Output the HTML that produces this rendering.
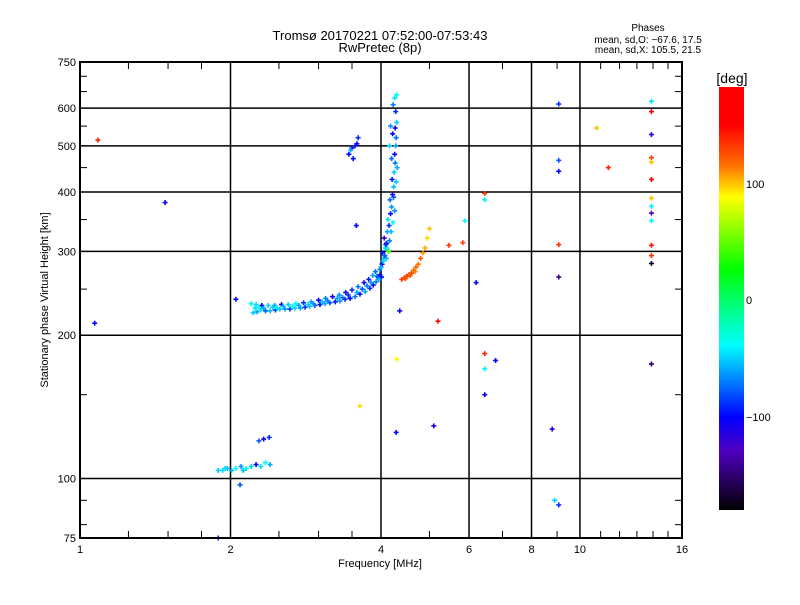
<!DOCTYPE html>
<html><head><meta charset="utf-8"><style>
body{margin:0;background:#fff;}
svg text{font-family:"Liberation Sans","DejaVu Sans",sans-serif;fill:#000;}
</style></head><body>
<svg id="chart" width="800" height="600" viewBox="0 0 800 600" xmlns="http://www.w3.org/2000/svg">
<defs>
<linearGradient id="cbar" x1="0" y1="0" x2="0" y2="1">
<stop offset="0" stop-color="#ff0000"/><stop offset="0.09" stop-color="#ff0000"/>
<stop offset="0.185" stop-color="#ff7000"/><stop offset="0.26" stop-color="#ffff00"/>
<stop offset="0.43" stop-color="#00ff00"/><stop offset="0.61" stop-color="#00ffff"/>
<stop offset="0.78" stop-color="#0000ff"/><stop offset="0.86" stop-color="#5000c0"/>
<stop offset="1" stop-color="#000000"/>
</linearGradient>
</defs>
<text x="380" y="40" font-size="13" text-anchor="middle">Tromsø 20170221 07:52:00-07:53:43</text>
<text x="380" y="52" font-size="13" text-anchor="middle">RwPretec (8p)</text>
<g font-size="10" text-anchor="middle">
<text x="648" y="31">Phases</text>
<text x="648" y="43">mean, sd,O: −67.6, 17.5</text>
<text x="648" y="53">mean, sd,X: 105.5, 21.5</text>
</g>
<g id="grid"></g>
<g id="ticks"></g>
<g id="marks"></g>
<rect x="80" y="62" width="602" height="476" fill="none" stroke="#000" stroke-width="2"/>
<text x="380" y="567" font-size="11" text-anchor="middle">Frequency [MHz]</text>
<text x="48" y="300" font-size="11" text-anchor="middle" transform="rotate(-90 48 300)">Stationary phase Virtual Height [km]</text>
<rect x="719" y="87" width="25" height="423" fill="url(#cbar)"/>
<text x="732" y="83" font-size="14" text-anchor="middle">[deg]</text>
<g font-size="11">
<text x="746" y="188">100</text><text x="746" y="304">0</text><text x="746" y="421">−100</text>
</g>
</svg>
<script>
const xTickVals=[1,2,4,6,8,10,16];
const yTickVals=[75,100,200,300,400,500,600,750];
const xGridVals=[2,4,6,8,10];
const yGridVals=[100,200,300,400,500,600];
const xMinor=[1.25,1.5,1.75,2.5,3,3.5,5,7,9,11,12,13,14,15];
const yMinor=[80,90,150,250,350,450,550,650,700];
const freqs=[2.22,2.26,2.30,2.35,2.40,2.46,2.51,2.57,2.63,2.69,2.76,2.82,2.88,2.95,3.02,3.09,3.16,3.24,3.31,3.39,3.47,3.55,3.63,3.72,3.80,3.86,3.91,3.95,3.98,
2.20,2.25,2.31,2.38,2.45,2.53,2.61,2.70,2.80,2.90,3.00,3.10,3.20,3.30,3.40,3.50,3.60,3.70,3.78,3.85,3.90,
2.24,2.28,2.33,2.43,2.48,2.55,2.66,2.74,2.86,2.93,3.05,3.13,3.27,3.35,3.44,3.58,3.67,3.75,3.82,3.93,
3.98,4.02,4.05,4.03,4.08,4.10,4.06,4.12,4.15,4.13,4.18,4.20,4.17,4.22,4.24,4.21,4.25,4.27,4.26,4.28,4.29,4.27,4.30,4.28,4.22,4.18,4.10,4.14,4.23,
4.00,4.04,4.07,4.11,4.16,4.19,4.23,4.26,4.24,4.29,4.31,4.20,4.16,4.09,4.01,3.96,4.26,4.30,
3.45,3.50,3.55,3.58,3.52,3.60,3.48,
4.40,4.45,4.50,4.55,4.60,4.65,4.70,4.75,4.80,4.85,4.90,4.95,5.00,4.48,4.58,4.68,
1.89,1.93,1.97,2.01,2.05,2.10,2.15,2.20,2.25,2.30,2.35,2.40,2.28,2.33,2.39,2.09,1.89,1.95,2.12,
1.086,1.48,1.07,2.05,3.57,4.36,4.30,4.29,3.63,5.10,5.20,5.47,5.83,5.89,6.20,6.45,6.45,6.45,6.45,6.45,6.78,8.80,8.90,9.07,9.07,9.07,9.07,9.07,9.07,10.8,11.4,13.9,13.9,13.9,13.9,13.9,13.9,13.9,13.9,13.9,13.9,13.9,13.9,13.9,13.9];
const heights=[223,224,226,225,225,226,227,227,227,228,228,229,230,231,232,233,234,235,236,238,239,241,244,247,251,255,259,264,268,
233,232,231,231,231,232,232,233,234,235,237,239,241,243,246,249,253,258,262,267,272,
228,229,228,229,228,230,230,231,232,233,235,236,239,240,243,246,250,254,258,266,
275,282,290,298,305,312,320,330,340,350,360,372,385,395,410,425,440,460,480,500,520,545,560,590,530,550,290,300,610,
278,286,294,305,316,330,345,365,390,420,450,470,500,310,265,262,630,640,
480,495,500,505,470,520,490,
262,264,266,268,270,274,278,282,290,298,305,320,335,263,267,272,
104,104,105,104,105,106,105,106,107,106,108,107,120,121,122,97,75,105,104,
514,380,212,238,340,225,178,125,142,129,214,309,313,348,258,397,385,183,170,150,177,127,90,612,466,442,310,265,88,545,450,620,590,528,472,462,425,388,373,361,348,309,294,283,174,113];
const phases=[-50,-60,-45,-80,-55,-90,-50,-65,-85,-50,-60,-90,-55,-80,-100,-60,-85,-95,-65,-90,-100,-70,-95,-60,-90,-100,-70,-75,-95,
-40,-45,-110,-50,-60,-115,-50,-40,-90,-60,-100,-70,-110,-65,-110,-90,-70,-110,-95,-60,-75,
-45,-40,-60,-50,-45,-55,-40,-60,-50,-65,-55,-70,-60,-75,-90,-60,-80,-70,-65,-80,
-70,-110,-60,-95,-50,-100,-120,-60,-90,-45,-100,-65,-75,-110,-55,-95,-50,-70,-100,-60,-75,-110,-50,-90,-100,-65,-55,40,-70,
-60,-50,-80,-45,-70,-55,-40,-65,-80,-50,-60,-75,-50,-90,-100,-60,-45,-40,
-100,-110,-95,-105,-100,-90,-60,
130,125,135,128,132,120,118,115,122,110,105,95,100,125,120,112,
-50,-45,-60,-55,-40,-65,-30,-50,-100,-45,-35,-60,-80,-110,-90,-80,-90,-45,-55,
140,-100,-100,-100,-100,-100,90,-100,95,-110,150,135,130,-40,-100,130,-40,140,-40,-100,-100,-110,-50,-90,-80,-100,135,-140,-90,100,140,-45,160,-120,130,100,170,100,-40,-130,-40,145,135,-170,-150,165];
const svg=document.getElementById('chart');
const NS='http://www.w3.org/2000/svg';
function xs(f){return 80+150.5*Math.log2(f);}
function ys(h){return 538-476*Math.log10(h/75);}
function phaseY(p){return 300-1.165*p;}
const cstops=[[87,[255,0,0]],[125,[255,0,0]],[165,[255,112,0]],[197,[255,255,0]],[270,[0,255,0]],[345,[0,255,255]],[418,[0,0,255]],[450,[80,0,192]],[510,[0,0,0]]];
function color(p){let y=Math.max(87,Math.min(510,phaseY(p)));for(let i=1;i<cstops.length;i++){if(y<=cstops[i][0]){const a=cstops[i-1],b=cstops[i];const t=(y-a[0])/(b[0]-a[0]||1);const c=a[1].map((v,k)=>Math.round(v+(b[1][k]-v)*t));return 'rgb('+c.join(',')+')';}}return '#000';}
function line(g,x1,y1,x2,y2,w,c){const l=document.createElementNS(NS,'line');l.setAttribute('x1',x1);l.setAttribute('y1',y1);l.setAttribute('x2',x2);l.setAttribute('y2',y2);l.setAttribute('stroke',c||'#000');l.setAttribute('stroke-width',w);g.appendChild(l);return l;}
const grid=document.getElementById('grid'),ticks=document.getElementById('ticks'),marks=document.getElementById('marks');
xGridVals.forEach(v=>{const l=line(grid,xs(v),62,xs(v),538,1.5);

});
yGridVals.forEach(v=>{const l=line(grid,80,ys(v),682,ys(v),1.5);

});
xMinor.forEach(v=>{const x=xs(v);line(ticks,x,538,x,531,1);line(ticks,x,62,x,69,1);});
yMinor.forEach(v=>{const y=ys(v);line(ticks,80,y,87,y,1);line(ticks,682,y,675,y,1);});
xTickVals.forEach(v=>{const t=document.createElementNS(NS,'text');t.setAttribute('x',xs(v));t.setAttribute('y',553);t.setAttribute('font-size','11');t.setAttribute('text-anchor','middle');t.textContent=v;


ticks.appendChild(t);});
yTickVals.forEach(v=>{const t=document.createElementNS(NS,'text');t.setAttribute('x',76);t.setAttribute('y',ys(v)+4);t.setAttribute('font-size','11');t.setAttribute('text-anchor','end');t.textContent=v;


ticks.appendChild(t);});
for(let i=0;i<freqs.length;i++){const x=xs(freqs[i]),y=ys(heights[i]),c=color(phases[i]);
const g=document.createElementNS(NS,'g');


line(g,x-2.5,y,x+2.5,y,1.6,c);line(g,x,y-2.5,x,y+2.5,1.6,c);marks.appendChild(g);}
</script>
</body></html>
